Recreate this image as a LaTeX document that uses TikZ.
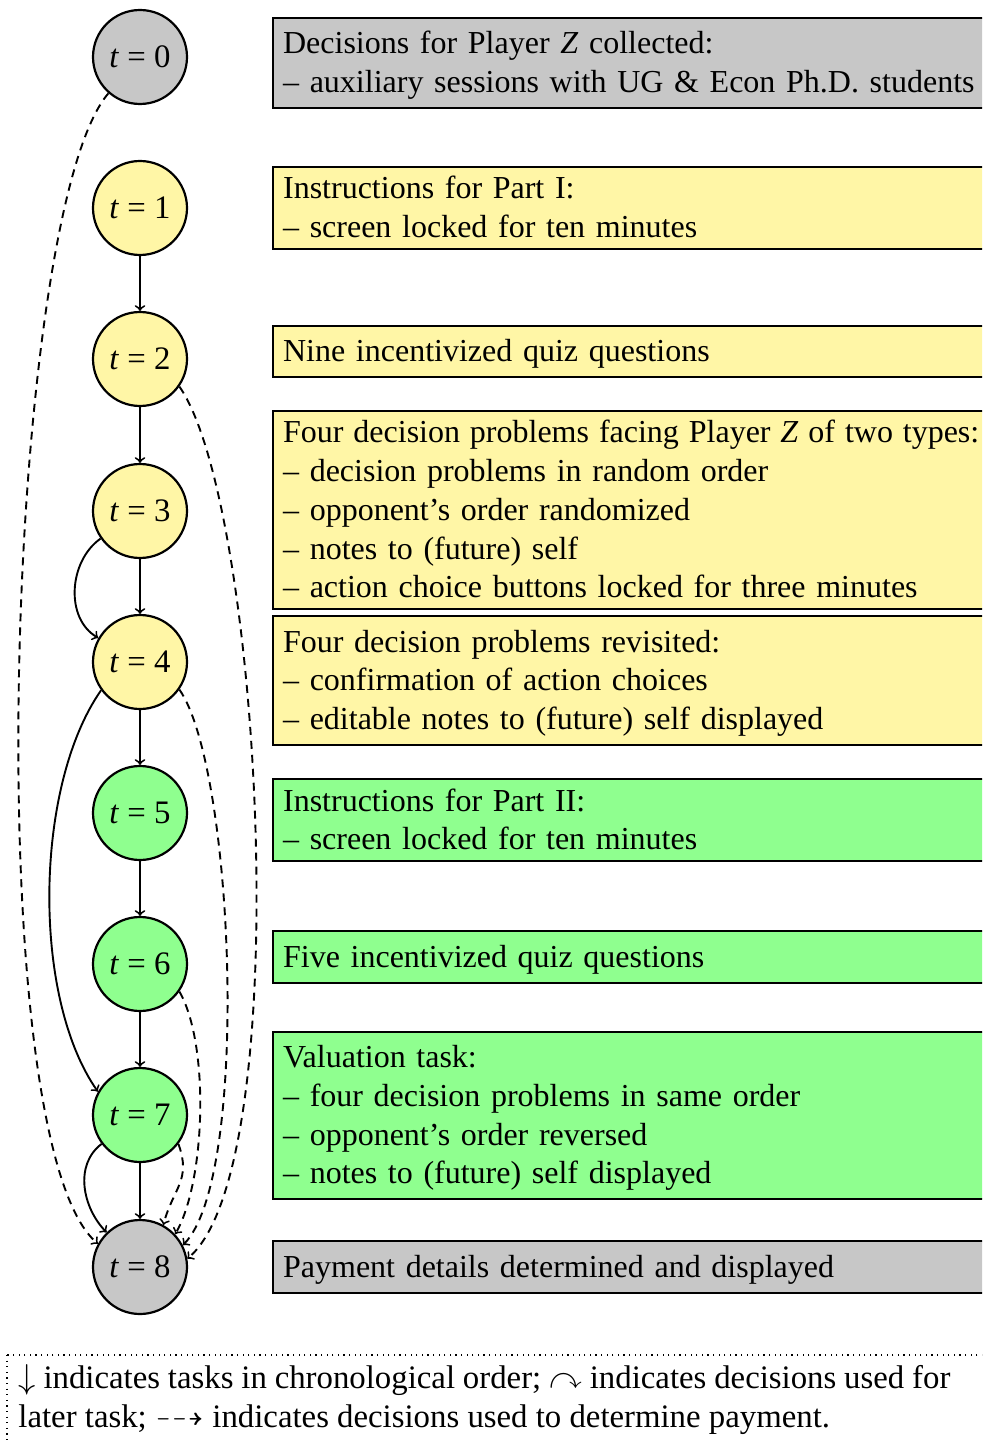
\documentclass[tikz,border=0pt]{standalone}
\usepackage{amssymb}
\usepackage{fontspec}
\setmainfont{Liberation Serif}
\definecolor{zgray}{RGB}{199,199,199}
\definecolor{zyellow}{RGB}{255,246,166}
\definecolor{zgreen}{RGB}{143,255,143}
\newcommand\tstrut{\rule[-4.5pt]{0pt}{19.35pt}}
\begin{document}
\begin{tikzpicture}[x=0.5pt,y=-0.5pt,
  font=\fontsize{16.0}{19.35}\selectfont,
  stage/.style={circle,draw,line width=1.1pt,minimum size=47pt,inner sep=0pt,
    font=\fontsize{16.4}{19.35}\selectfont},
  task/.style={rectangle,draw,line width=1.1pt,anchor=west,minimum height=#1,
    text width=380pt,inner xsep=5pt,inner ysep=0pt,align=left},
  conn/.style={->,line width=0.95pt},
  pay/.style={->,line width=0.95pt,dash pattern=on 4pt off 3pt},
  legbox/.style={line width=0.6pt,dash pattern=on 0.6pt off 2.2pt},
]
\path[use as bounding box] (0,0) rectangle (982,1443);
\clip (0,0) rectangle (982,1443);

% stages
\node[stage,fill=zgray]   (c0) at (140,57)   {\textit{t} = 0};
\node[stage,fill=zyellow] (c1) at (140,208)  {\textit{t} = 1};
\node[stage,fill=zyellow] (c2) at (140,359)  {\textit{t} = 2};
\node[stage,fill=zyellow] (c3) at (140,511)  {\textit{t} = 3};
\node[stage,fill=zyellow] (c4) at (140,662)  {\textit{t} = 4};
\node[stage,fill=zgreen]  (c5) at (140,813)  {\textit{t} = 5};
\node[stage,fill=zgreen]  (c6) at (140,964)  {\textit{t} = 6};
\node[stage,fill=zgreen]  (c7) at (140,1115) {\textit{t} = 7};
\node[stage,fill=zgray]   (c8) at (140,1267) {\textit{t} = 8};

% tasks
\node[task=45pt,fill=zgray] (b0) at (272,63)
  {\tstrut Decisions for Player \textit{Z} collected:\\
   \tstrut -- auxiliary sessions with UG \& Econ Ph.D. students};
\node[task=41pt,fill=zyellow] (b1) at (272,208)
  {\tstrut Instructions for Part I:\\
   \tstrut -- screen locked for ten minutes};
\node[task=25.5pt,fill=zyellow] (b2) at (272,351.5)
  {\tstrut Nine incentivized quiz questions};
\node[task=99pt,fill=zyellow] (b3) at (272,510)
  {\tstrut {\spaceskip=4.95pt plus 1pt minus 0.5pt Four decision problems facing Player \textit{Z} of two types:}\\
   \tstrut -- decision problems in random order\\
   \tstrut -- opponent’s order randomized\\
   \tstrut -- notes to (future) self\\
   \tstrut -- action choice buttons locked for three minutes};
\node[task=64.5pt,fill=zyellow] (b4) at (272,680.5)
  {\tstrut Four decision problems revisited:\\
   \tstrut -- confirmation of action choices\\
   \tstrut -- editable notes to (future) self displayed};
\node[task=41pt,fill=zgreen] (b5) at (272,820)
  {\tstrut Instructions for Part II:\\
   \tstrut -- screen locked for ten minutes};
\node[task=26pt,fill=zgreen] (b6) at (272,957)
  {\tstrut Five incentivized quiz questions};
\node[task=83.5pt,fill=zgreen] (b7) at (272,1115.5)
  {\tstrut Valuation task:\\
   \tstrut -- four decision problems in same order\\
   \tstrut -- opponent’s order reversed\\
   \tstrut -- notes to (future) self displayed};
\node[task=26pt,fill=zgray] (b8) at (272,1267)
  {\tstrut Payment details determined and displayed};

% chronological arrows
\draw[conn] (c1) -- (c2);
\draw[conn] (c2) -- (c3);
\draw[conn] (c3) -- (c4);
\draw[conn] (c4) -- (c5);
\draw[conn] (c5) -- (c6);
\draw[conn] (c6) -- (c7);
\draw[conn] (c7) -- (c8);

% decisions used for later task
\draw[conn] (c3.215) to[out=215,in=150] (c4.150);
\draw[conn] (c4.216) to[out=235,in=125,looseness=0.74] (c7.151);
\draw[conn] (c7.217) to[out=217,in=134] (c8.134);

% decisions used for payment
\draw[pay] (c0.229) to[out=229,in=140,looseness=0.35] (c8.151);
\draw[pay] (c2.325) to[out=305,in=40,looseness=0.42] (c8.10);
\draw[pay] (c4.325) to[out=305,in=45,looseness=0.44] (c8.27);
\draw[pay] (c6.325) to[out=300,in=60,looseness=0.64] (c8.43);
\draw[pay] (c7.323) to[out=290,in=75,looseness=1.2] (c8.61);

% legend
\draw[legbox] (7,1355) rectangle (1000,1480);
\node[anchor=north west,inner sep=0pt,text width=466pt,align=justify,
  font=\fontsize{16.4}{19.35}\selectfont] (leg) at (18,1361)
  {\strut$\downarrow$ indicates tasks in chronological order; $\curvearrowright$ indicates decisions used for\linebreak
   later task; $\dashrightarrow$ indicates decisions used to determine payment.};
\end{tikzpicture}
\end{document}
